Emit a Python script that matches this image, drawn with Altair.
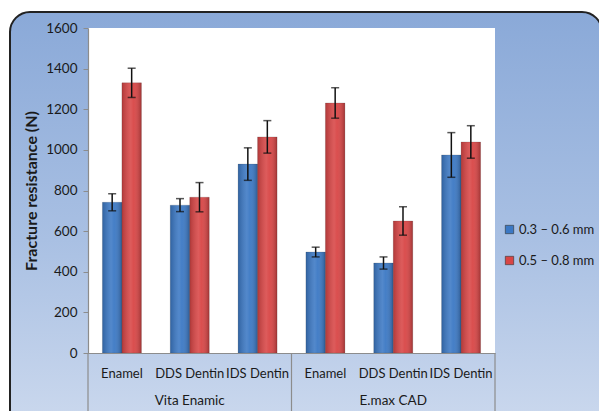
import altair as alt
import pandas as pd

groups = ["Vita Enamic", "Vita Enamic", "Vita Enamic", "E.max CAD", "E.max CAD", "E.max CAD"]
subs = ["Enamel", "DDS Dentin", "IDS Dentin", "Enamel", "DDS Dentin", "IDS Dentin"]
series_names = ["0.3 – 0.6 mm", "0.5 – 0.8 mm"]
thin_vals = [742, 728, 930, 497, 443, 975]
thin_err = [42, 32, 80, 24, 30, 110]
thick_vals = [1330, 767, 1064, 1231, 650, 1039]
thick_err = [72, 72, 80, 75, 70, 80]
y_ticks = [0, 200, 400, 600, 800, 1000, 1200, 1400, 1600]

rows = []
for g, s, v, e in zip(groups, subs, thin_vals, thin_err):
    rows.append({"key": g + "|" + s, "group": g, "sub": s, "series": series_names[0],
                 "value": v, "lo": v - e, "hi": v + e})
for g, s, v, e in zip(groups, subs, thick_vals, thick_err):
    rows.append({"key": g + "|" + s, "group": g, "sub": s, "series": series_names[1],
                 "value": v, "lo": v - e, "hi": v + e})
df = pd.DataFrame(rows)
keys = [g + "|" + s for g, s in zip(groups, subs)]

W, H = 407, 325
FONT = "Lato"

xscale = alt.Scale(domain=keys, paddingInner=0, paddingOuter=0)
xoff = alt.Scale(domain=series_names, paddingOuter=0.74, paddingInner=0)

bg_grad = alt.Gradient(
    gradient="linear",
    stops=[alt.GradientStop(color="#8aa9d8", offset=0),
           alt.GradientStop(color="#a9c0e3", offset=0.5),
           alt.GradientStop(color="#d3def0", offset=1)],
    x1=0, x2=0, y1=0, y2=1)

dummy = alt.Data(values=[{"a": 1}])
background = alt.Chart(dummy).mark_rect(
    fill=bg_grad, stroke="#222222", strokeWidth=2, cornerRadius=20
).encode(x=alt.value(-78), x2=alt.value(514), y=alt.value(-16), y2=alt.value(440))

plot_bg = alt.Chart(dummy).mark_rect(fill="white").encode(
    x=alt.value(0), x2=alt.value("width"), y=alt.value(0), y2=alt.value("height"))

base = alt.Chart(df)

bars = base.mark_bar(stroke="#33333355", strokeWidth=0.5).encode(
    x=alt.X("key:N", scale=xscale, sort=keys,
            axis=alt.Axis(title=None, labelExpr="split(datum.label, '|')[1]",
                          labelAngle=0, ticks=False, labelPadding=14, zindex=2,
                          labelFont=FONT, labelFontSize=13, labelColor="#1a1a1a",
                          labelOverlap=False,
                          domainColor="#8c8c8c", domainWidth=1.2)),
    xOffset=alt.XOffset("series:N", scale=xoff, sort=series_names),
    y=alt.Y("value:Q", scale=alt.Scale(domain=[0, 1600], nice=False),
            axis=alt.Axis(title="Fracture resistance (N)", values=y_ticks, grid=False,
                          format="d",
                          tickSize=5, tickColor="#8c8c8c", domainColor="#8c8c8c",
                          domainWidth=1.2, labelPadding=6, labelFont=FONT, zindex=2,
                          labelFontSize=13.5, labelColor="#1a1a1a",
                          titleFont=FONT, titleFontSize=16, titleFontWeight="bold",
                          titleColor="#1a1a1a", titlePadding=6)),
    color=alt.Color("series:N", sort=series_names,
                    scale=alt.Scale(domain=series_names, range=["#3b78c4", "#d84545"]),
                    legend=alt.Legend(title=None, orient="none", legendX=415, legendY=195,
                                      symbolType="square", symbolSize=70,
                                      symbolStrokeColor="#333333", symbolStrokeWidth=0.6,
                                      labelFont=FONT, labelFontSize=13, labelColor="#1a1a1a",
                                      rowPadding=17, labelOffset=3, zindex=2)),
)

shade = alt.Gradient(
    gradient="linear",
    stops=[alt.GradientStop(color="rgba(0,0,0,0.18)", offset=0),
           alt.GradientStop(color="rgba(255,255,255,0.12)", offset=0.45),
           alt.GradientStop(color="rgba(255,255,255,0.05)", offset=0.6),
           alt.GradientStop(color="rgba(0,0,0,0.25)", offset=1)],
    x1=0, x2=1, y1=0, y2=0)

bars_shade = base.mark_bar(fill=shade).encode(
    x=alt.X("key:N", scale=xscale, sort=keys),
    xOffset=alt.XOffset("series:N", scale=xoff, sort=series_names),
    y=alt.Y("value:Q"),
)

err = base.mark_rule(color="#111111", strokeWidth=1.5).encode(
    x=alt.X("key:N", scale=xscale, sort=keys),
    xOffset=alt.XOffset("series:N", scale=xoff, sort=series_names),
    y=alt.Y("lo:Q"), y2="hi:Q")

cap_lo = base.mark_tick(color="#111111", thickness=1.5, size=8, orient="horizontal").encode(
    x=alt.X("key:N", scale=xscale, sort=keys),
    xOffset=alt.XOffset("series:N", scale=xoff, sort=series_names),
    y=alt.Y("lo:Q"))
cap_hi = base.mark_tick(color="#111111", thickness=1.5, size=8, orient="horizontal").encode(
    x=alt.X("key:N", scale=xscale, sort=keys),
    xOffset=alt.XOffset("series:N", scale=xoff, sort=series_names),
    y=alt.Y("hi:Q"))

sep_df = pd.DataFrame({"key": [keys[0], keys[3]]})
sep_left = alt.Chart(sep_df).mark_rule(color="#8c8c8c", strokeWidth=1.2).encode(
    x=alt.X("key:N", scale=xscale, sort=keys, bandPosition=0),
    y=alt.value(H), y2=alt.value(H + 80))
sep_right = alt.Chart(pd.DataFrame({"key": [keys[-1]]})).mark_rule(color="#8c8c8c", strokeWidth=1.2).encode(
    x=alt.X("key:N", scale=xscale, sort=keys, bandPosition=1),
    y=alt.value(H), y2=alt.value(H + 80))

grp_df = pd.DataFrame({"key": [keys[1], keys[4]], "group": [groups[1], groups[4]]})
grp_text = alt.Chart(grp_df).mark_text(font=FONT, fontSize=13.5, color="#1a1a1a", baseline="middle").encode(
    x=alt.X("key:N", scale=xscale, sort=keys),
    y=alt.value(H + 48),
    text="group:N")

chart = alt.layer(background, plot_bg, bars, bars_shade, err, cap_lo, cap_hi,
                  sep_left, sep_right, grp_text).properties(
    width=W, height=H,
    autosize=alt.AutoSizeParams(type="none"),
    padding={"left": 80, "top": 20, "right": 104, "bottom": 58},
    background="white",
).configure_view(stroke=None)

chart.save("out.html", embed_options={"renderer": "svg", "actions": False})
